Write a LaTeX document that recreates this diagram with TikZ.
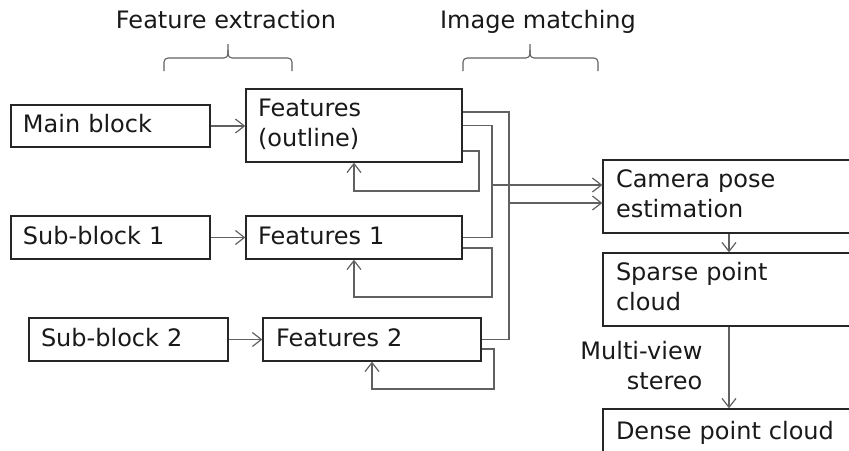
\documentclass[tikz,border=0pt]{standalone}
\usepackage{fontspec}
\setmainfont{DejaVu Sans}
\usetikzlibrary{arrows.meta}
\begin{document}
\begin{tikzpicture}[x=1pt,y=-1pt,
  every node/.style={font=\fontsize{24}{30}\selectfont, text=black!90},
  blk/.style={draw=black!85, line width=1.3pt, align=left, inner xsep=12pt, inner ysep=0pt},
  one/.style={blk, text height=18pt, text depth=5pt},
  two/.style={blk, text height=18pt, text depth=36pt, minimum height=73pt},
  conn/.style={draw=black!62, line width=1.2pt},
  arr/.style={conn, -{Straight Barb[length=9pt,width=14pt]}},
  brc/.style={draw=black!62, line width=1.1pt, rounded corners=4pt}]
\useasboundingbox (0,0) rectangle (849,450);
\clip (0,0) rectangle (849,450);

% group labels and braces
\node[anchor=base] (lblfe) at (226,28) {Feature extraction};
\node[anchor=base] (lblim) at (538,28) {Image matching};
\draw[brc] (164,71) |- (228,58) -- (228,44);
\draw[brc] (292,71) |- (228,58) -- (228,50);
\draw[brc] (463,71) |- (530,58) -- (530,44);
\draw[brc] (598,71) |- (530,58) -- (530,50);

% input blocks
\node[one, text width=175pt, minimum height=42pt] (mb)  at (110.5,126)   {Main block};
\node[one, text width=175pt, minimum height=43pt] (sb1) at (110.5,237.5) {Sub-block 1};
\node[one, text width=175pt, minimum height=43pt] (sb2) at (128.5,339.5) {Sub-block 2};

% feature blocks
\node[two, text width=192pt] (fo) at (354,125.5) {Features\\(outline)};
\node[one, text width=192pt, minimum height=43pt] (f1) at (354,237.5) {Features 1};
\node[one, text width=192pt, minimum height=43pt, inner xsep=13pt] (f2) at (372,339.5) {Features 2};

% reconstruction pipeline
\node[two, text width=226pt, inner xsep=13pt] (cam) at (729,196.5) {Camera pose\\estimation};
\node[two, text width=226pt, inner xsep=13pt] (sp)  at (729,289.5) {Sparse point\\cloud};
\node[one, text width=226pt, inner xsep=13pt, minimum height=47pt] (dn) at (729,432.5) {Dense point cloud};

% extraction arrows
\draw[arr] (mb) -- (fo.west |- mb);
\draw[arr] (sb1) -- (f1);
\draw[arr] (sb2) -- (f2);

% matching buses
\draw[conn] (fo.east |- 0,112) -| (509,339.5) -- (f2.east);
\draw[conn] (fo.east) -| (492,237.5) -- (f1.east);

% self-matching loops
\draw[arr] (fo.east |- 0,151) -| (479,191) -| (fo.south);
\draw[arr] (f1.east |- 0,248) -| (492,297) -| (f1.south);
\draw[arr] (f2.east |- 0,349) -| (494,389) -| (f2.south);

% matches to pose estimation
\coordinate (tapA) at (492,185);
\coordinate (tapB) at (509,203);
\draw[arr] (tapA) -- (cam.west |- tapA);
\draw[arr] (tapB) -- (cam.west |- tapB);

% pipeline arrows
\draw[arr] (cam) -- (sp);
\draw[arr] (sp) -- node[anchor=east, align=right, inner sep=0pt, xshift=-26pt, yshift=2pt] (mvs) {Multi-view\\stereo} (dn);
\end{tikzpicture}
\end{document}
